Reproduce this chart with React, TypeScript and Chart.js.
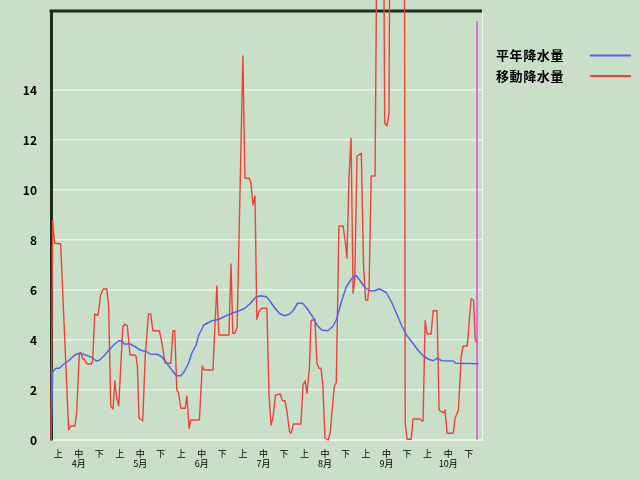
import React, { useEffect, useRef } from "react";
import { Chart, registerables } from "chart.js";

Chart.register(...registerables);

// ---- data ----
const DEKADS = ["上", "中", "下"];
const MONTHS = ["4月", "5月", "6月", "7月", "8月", "9月", "10月"];
const Y_TICKS = [0, 2, 4, 6, 8, 10, 12, 14];
const SERIES_NAMES = ["平年降水量", "移動降水量"];

// 平年降水量 (day index from Apr 1, value mm)
const normalDays = [
  0, 0.8, 2.4, 4.0, 5.7, 8.0, 9.9, 11.6, 13.5, 15.5, 18.0, 19.7, 22.1, 23.8, 26.2, 28.6, 31.1, 33.0, 34.6, 35.6,
  38.5, 41.0, 43.4, 46.7, 48.3, 51.6, 54.0, 56.4, 58.9, 61.0, 63.3, 64.9, 67.0, 68.6, 70.7, 72.0, 74.5, 76.1, 78.5,
  81.8, 85.0, 88.3, 91.6, 94.5, 97.2, 99.7, 102.1, 104.9, 106.3, 108.8, 111.2, 113.7, 116.1, 118.2, 120.1, 122.6,
  124.7, 127.5, 129.6, 131.9, 134.8, 137.2, 139.0, 141.5, 143.9, 146.3, 148.4, 150.4, 152.8, 155.3, 157.7, 159.9,
  161.8, 163.4, 165.9, 168.3, 170.7, 173.2, 176.6, 179.0, 181.5, 183.9, 186.3, 188.0, 190.4, 196.1, 197.2, 208.3,
];
const normalValues = [
  0, 2.73, 2.87, 2.87, 3.0, 3.13, 3.27, 3.4, 3.47, 3.44, 3.36, 3.31, 3.16, 3.2, 3.4, 3.63, 3.84, 3.97, 3.97, 3.84,
  3.84, 3.73, 3.6, 3.53, 3.44, 3.43, 3.33, 3.07, 2.8, 2.57, 2.57, 2.73, 3.07, 3.47, 3.8, 4.2, 4.6, 4.67, 4.77,
  4.83, 4.96, 5.07, 5.17, 5.27, 5.47, 5.71, 5.77, 5.73, 5.6, 5.31, 5.07, 4.97, 5.03, 5.2, 5.47, 5.47,
  5.27, 4.93, 4.6, 4.4, 4.37, 4.53, 4.8, 5.53, 6.13, 6.43, 6.6, 6.4, 6.11, 5.97, 5.97, 6.05,
  5.97, 5.89, 5.53, 5.07, 4.6, 4.2, 3.84, 3.57, 3.36, 3.23, 3.17, 3.27, 3.17, 3.16, 3.07, 3.05,
];

// 移動降水量
const movingDays = [
  0, 0.8, 1.8, 4.7, 8.6, 9.6, 11.6, 12.5, 13.8, 14.5, 15.5, 16.1, 17.7, 19.7, 20.3, 21.3, 22.9, 24.2, 25.4, 27.2,
  28.1, 29.1, 30.2, 31.1, 31.9, 33.0, 35.0, 36.0, 37.2, 38.5, 41.0, 41.5, 42.1, 42.9, 44.7, 45.9, 47.5, 48.6, 49.6,
  52.8, 53.8, 55.6, 58.4, 59.4, 60.3, 61.3, 62.1, 63.3, 65.4, 66.2, 67.3, 68.1, 72.3, 73.7, 74.6, 78.9, 80.8, 81.8,
  86.7, 87.7, 88.6, 89.6, 90.7, 93.5, 94.5, 96.7, 97.4, 98.4, 99.4, 100.3, 101.3, 102.6, 105.2, 106.2, 107.2, 108.1,
  109.4, 111.7, 112.8, 114.0, 115.0, 116.2, 116.9, 118.2, 121.8, 122.8, 123.8, 124.7, 125.9, 126.7, 128.6, 129.6,
  130.6, 131.6, 132.5, 133.5, 135.1, 136.1, 138.0, 139.0, 140.3, 142.3, 143.3, 144.2, 145.2, 146.2, 147.2, 148.0,
  149.1, 151.2, 152.3, 153.3, 154.3, 155.0, 156.0, 157.9, 159.3, 161.7, 162.6, 163.7, 164.7, 165.6, 172.0, 172.6,
  173.5, 175.5, 176.4, 179.8, 180.6, 181.3, 182.3, 183.3, 185.2, 186.2, 188.1, 189.1, 190.4, 191.4, 192.0, 193.0,
  196.0, 196.9, 198.5, 199.9, 200.8, 202.8, 204.7, 205.9, 206.7, 207.5,
];
const movingValues = [
  0, 8.77, 7.87, 7.85, 0.4, 0.56, 0.56, 1.07, 3.44, 3.5, 3.24, 3.24, 3.04, 3.04, 3.17, 5.04, 4.99, 5.8, 6.04, 6.04,
  5.33, 1.36, 1.24, 2.37, 1.73, 1.37, 4.53, 4.64, 4.56, 3.4, 3.4, 3.33, 2.93, 0.88, 0.77, 3.33, 5.04, 5.04, 4.37,
  4.37, 4.0, 3.07, 3.07, 4.37, 4.37, 2.0, 1.89, 1.27, 1.27, 1.76, 0.47, 0.8, 0.8, 2.96, 2.8, 2.8, 6.16, 4.2,
  4.2, 7.04, 4.27, 4.27, 4.53, 15.36, 10.47, 10.47, 10.27, 9.4, 9.76, 4.83, 5.13, 5.27, 5.27, 1.87, 0.6, 0.87,
  1.8, 1.84, 1.57, 1.57, 1.13, 0.33, 0.27, 0.64, 0.64, 2.2, 2.37, 1.87, 2.87, 4.77, 4.83, 3.07,
  2.87, 2.87, 2.13, 0.07, 0, 0.33, 2.13, 2.3, 8.56, 8.56, 8.0, 7.27, 10.53, 12.07, 5.87, 6.4,
  11.36, 11.47, 6.93, 5.6, 5.6, 6.13, 10.56, 10.56, 26, 26, 12.67, 12.56, 13.07, 30, 30, 0.67,
  0.03, 0.03, 0.84, 0.84, 0.77, 0.77, 4.77, 4.24, 4.24, 5.17, 5.17, 1.2, 1.13, 1.09, 1.2, 0.27,
  0.27, 0.87, 1.2, 3.36, 3.76, 3.76, 5.65, 5.6, 4.0, 3.89,
];

// "today" marker
const markerDay = 207.6;
const markerRange = [0, 16.76];

const X_MIN = 0;
const X_MAX = 210;
const Y_MAX = 17.16;

const BG = "#c9dfc8";
const BLUE = "rgb(88,98,232)";
const RED = "rgb(236,66,58)";
const MAGENTA = "rgb(222,112,222)";
const FONT = "'Noto Sans CJK JP', 'Noto Sans', sans-serif";

export default function App() {
  const ref = useRef<HTMLCanvasElement>(null);

  useEffect(() => {
    const canvas = ref.current;
    if (!canvas) return;

    const bgPlugin = {
      id: "bg",
      beforeDraw(c: any) {
        const ctx = c.ctx;
        ctx.save();
        ctx.fillStyle = BG;
        ctx.fillRect(0, 0, c.width, c.height);
        ctx.restore();
      },
    };

    const framePlugin = {
      id: "frame",
      beforeDatasetsDraw(c: any) {
        const ctx = c.ctx;
        const a = c.chartArea;
        ctx.save();
        ctx.strokeStyle = "#eef4ec";
        ctx.lineWidth = 1;
        ctx.beginPath();
        ctx.moveTo(a.right + 0.5, a.top);
        ctx.lineTo(a.right + 0.5, a.bottom);
        ctx.stroke();
        ctx.strokeStyle = "#1f2b1f";
        ctx.lineWidth = 3;
        ctx.beginPath();
        ctx.moveTo(a.left - 1.5, a.top);
        ctx.lineTo(a.right, a.top);
        ctx.stroke();
        ctx.restore();
      },
    };

    const legendPlugin = {
      id: "customLegend",
      afterDraw(c: any) {
        const ctx = c.ctx;
        const a = c.chartArea;
        ctx.save();
        ctx.font = `bold 13px ${FONT}`;
        (ctx as any).letterSpacing = "0.6px";
        ctx.textBaseline = "middle";
        ctx.textAlign = "left";
        ctx.fillStyle = "#000";
        c.data.datasets.slice(0, 2).forEach((ds: any, i: number) => {
          const y = a.top + 44.5 + i * 20.5;
          ctx.fillText(ds.label, a.right + 14, y);
          ctx.strokeStyle = ds.borderColor;
          ctx.lineWidth = 2;
          ctx.beginPath();
          ctx.moveTo(a.right + 108, y);
          ctx.lineTo(a.right + 149, y);
          ctx.stroke();
        });
        ctx.restore();
      },
    };

    const chart = new Chart(canvas, {
      type: "line",
      data: {
        datasets: [
          {
            label: SERIES_NAMES[0],
            data: normalDays.map((d, i) => ({ x: d, y: normalValues[i] })),
            borderColor: BLUE,
            borderWidth: 1.5,
            pointRadius: 0,
            tension: 0,
            borderJoinStyle: "round",
          },
          {
            label: SERIES_NAMES[1],
            data: movingDays.map((d, i) => ({ x: d, y: movingValues[i] })),
            borderColor: RED,
            borderWidth: 1.4,
            pointRadius: 0,
            tension: 0,
            clip: false as any,
            borderJoinStyle: "round",
          },
          {
            label: "",
            data: markerRange.map((v) => ({ x: markerDay, y: v })),
            borderColor: MAGENTA,
            borderWidth: 2,
            pointRadius: 0,
          },
        ],
      },
      options: {
        responsive: false,
        animation: false,
        devicePixelRatio: 1,
        layout: { padding: { top: 11, right: 158, left: 0, bottom: 0 } },
        plugins: { legend: { display: false }, tooltip: { enabled: false } },
        scales: {
          x: {
            type: "linear",
            min: X_MIN,
            max: X_MAX,
            afterFit(s: any) {
              s.height = 40;
              s.paddingLeft = 0;
              s.paddingRight = 0;
            },
            afterBuildTicks(s: any) {
              const t = [];
              for (let k = 0; k < MONTHS.length * 3; k++) t.push({ value: 3.5 + k * 10 });
              s.ticks = t;
            },
            grid: { display: false, drawTicks: false },
            border: { display: true, color: "#eef4ec", width: 2 },
            ticks: {
              autoSkip: false,
              maxRotation: 0,
              padding: 9,
              color: "#000",
              font: { family: FONT, size: 9, lineHeight: 1.1 },
              callback: (v: any) => {
                const k = Math.round((Number(v) - 3.5) / 10);
                const d = DEKADS[k % 3];
                if (k % 3 === 1) return [d, MONTHS[Math.floor(k / 3)]];
                return d;
              },
            },
          },
          y: {
            min: 0,
            max: Y_MAX,
            afterFit(s: any) {
              s.width = 51;
              s.paddingTop = 0;
              s.paddingBottom = 0;
            },
            afterBuildTicks(s: any) {
              s.ticks = Y_TICKS.map((v) => ({ value: v }));
            },
            grid: { color: "#edf3eb", lineWidth: 1.5, drawTicks: false },
            border: { color: "#1f2b1f", width: 3 },
            ticks: {
              padding: 14,
              color: "#000",
              font: { family: FONT, size: 12, weight: "bold" },
              callback: (v: any) => String(v),
            },
          },
        },
      },
      plugins: [bgPlugin, framePlugin, legendPlugin],
    });

    return () => chart.destroy();
  }, []);

  return (
    <div style={{ position: "fixed", left: 0, top: 0, width: 640, height: 480, background: BG }}>
      <canvas ref={ref} width={640} height={480} style={{ width: 640, height: 480, display: "block" }} />
    </div>
  );
}
